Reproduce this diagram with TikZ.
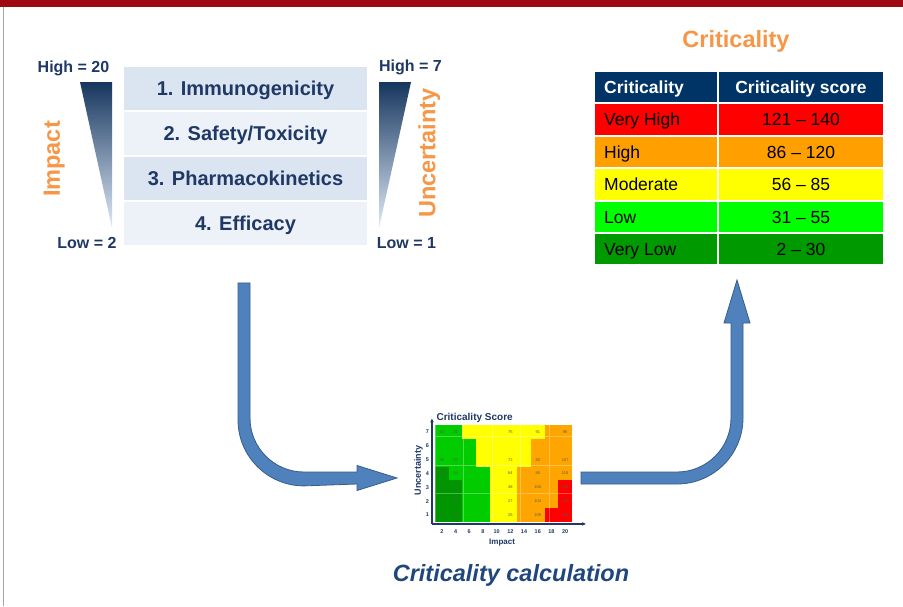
\documentclass[tikz,border=0pt]{standalone}
\usepackage{fontspec}
\setmainfont{Liberation Sans}
\usetikzlibrary{arrows.meta,positioning,calc}

\definecolor{topbar}{RGB}{158,8,16}
\definecolor{navytxt}{RGB}{31,56,100}
\definecolor{calctxt}{RGB}{31,71,125}
\definecolor{critorange}{RGB}{247,150,70}
\definecolor{boxdark}{RGB}{219,229,242}
\definecolor{boxlight}{RGB}{237,242,249}
\definecolor{tridark}{RGB}{22,54,94}
\definecolor{trilight}{RGB}{198,217,241}
\definecolor{headnavy}{RGB}{0,51,102}
\definecolor{critVH}{RGB}{255,0,0}
\definecolor{critH}{RGB}{255,160,0}
\definecolor{critM}{RGB}{255,255,0}
\definecolor{critL}{RGB}{0,255,0}
\definecolor{critVL}{RGB}{0,153,0}
\definecolor{arrowblue}{RGB}{79,129,189}
\definecolor{arrowedge}{RGB}{56,93,138}
\definecolor{hmD}{RGB}{0,150,0}
\definecolor{hmG}{RGB}{0,204,0}
\definecolor{hmY}{RGB}{255,255,0}
\definecolor{hmO}{RGB}{255,165,0}
\definecolor{hmR}{RGB}{255,0,0}

\begin{document}
\begin{tikzpicture}[
        x=1pt, y=1pt,
        listbox/.style={minimum width=243pt, minimum height=43pt, inner sep=0pt, text=navytxt,
            text height=14.3pt, text depth=0pt, font=\fontsize{20}{24}\selectfont\bfseries},
        scalelab/.style={text=navytxt, inner sep=0pt, text height=11.5pt, text depth=0pt,
            font=\fontsize{16}{19}\selectfont\bfseries},
        axislab/.style={text=critorange, inner sep=0pt, rotate=90, text height=16.8pt, text depth=0pt,
            font=\fontsize{23.5}{28}\selectfont\bfseries},
        headtxt/.style={text=white, inner sep=0pt, text height=12.5pt, text depth=0pt,
            font=\fontsize{17.5}{21}\selectfont\bfseries},
        rowtxt/.style={text=black, inner sep=0pt, text height=12.5pt, text depth=0pt,
            font=\fontsize{17.5}{21}\selectfont},
        cell/.style={draw=white, line width=2pt},
        bigarrow/.style={fill=arrowblue, draw=arrowedge, line width=0.8pt},
        hmtick/.style={text=navytxt, inner sep=0pt, font=\fontsize{5.5}{6.5}\selectfont\bfseries},
        hmnum/.style={text=black!65, inner sep=0pt, font=\fontsize{4}{5}\selectfont},
        hmlab/.style={text=navytxt, inner sep=0pt, font=\fontsize{9}{10}\selectfont\bfseries},
        hmaxis/.style={draw=navytxt, line width=1.3pt, -{Stealth[length=3.5pt,width=3.5pt]}}
    ]

    % Page
    \fill[white] (0,0) rectangle (903,-606);
    \useasboundingbox (0,0) rectangle (903,-606);
    \fill[topbar] (0,0) rectangle (903,-6.5);
    \draw[gray!70, line width=1.2pt] (3.5,-6.5) -- (3.5,-606);

    % Attribute list
    \node[listbox, fill=boxdark] (imm) at (245.5,-88.5) {1. Immunogenicity};
    \node[listbox, fill=boxlight, below=1.5pt of imm] (saf) {2. Safety/Toxicity};
    \node[listbox, fill=boxdark, below=1.5pt of saf] (pk) {3. Pharmacokinetics};
    \node[listbox, fill=boxlight, below=1.5pt of pk] (eff) {4. Efficacy};

    % Scales
    \shade[top color=tridark, middle color=trilight, bottom color=trilight!55!white]
        (80,-82) -- (112,-82) -- (112,-228) -- cycle;
    \shade[top color=tridark, middle color=trilight, bottom color=trilight!55!white]
        (379,-82) -- (411,-82) -- (379,-228) -- cycle;

    \node[scalelab] (imphigh) at (73.5,-66.5) {High = 20};
    \node[scalelab] (implow) at (87,-243) {Low = 2};
    \node[scalelab] (unchigh) at (410.5,-65.3) {High = 7};
    \node[scalelab] (unclow) at (406.5,-243) {Low = 1};
    \node[axislab] (implab) at (51.5,-159) {Impact};
    \node[axislab] (unclab) at (427,-153) {Uncertainty};

    % Criticality table
    \node[text=critorange, inner sep=0pt, font=\fontsize{23.5}{28}\selectfont\bfseries] (crittitle) at (736,-41) {Criticality};
    \draw[cell, fill=headnavy] (594,-71) rectangle (718,-103.4);
    \draw[cell, fill=headnavy] (718,-71) rectangle (884,-103.4);
    \node[headtxt, anchor=west] (hcrit) at (604,-87.2) {Criticality};
    \node[headtxt] (hscore) at (801,-87.2) {Criticality score};
    \foreach \lab/\rng/\col [count=\r] in {Very High/121 – 140/critVH, High/86 – 120/critH,
            Moderate/56 – 85/critM, Low/31 – 55/critL, Very Low/2 – 30/critVL}{
        \draw[cell, fill=\col] (594,{-71-\r*32.4}) rectangle (718,{-103.4-\r*32.4});
        \draw[cell, fill=\col] (718,{-71-\r*32.4}) rectangle (884,{-103.4-\r*32.4});
        \node[rowtxt, anchor=west] (lab\r) at (604,{-87.2-\r*32.4}) {\lab};
        \node[rowtxt] (rng\r) at (801,{-87.2-\r*32.4}) {\rng};
    }

    % Score map
    \begin{scope}[shift={(435,-522)}, x=13.7pt, y=13.86pt]
        \foreach \cols [count=\i] in {{D,D,D,D,G,G,G},{D,D,D,G,G,G,G},{G,G,G,G,G,G,Y},{G,G,G,G,Y,Y,Y},
                {Y,Y,Y,Y,Y,Y,Y},{Y,Y,Y,Y,Y,Y,Y},{O,O,O,O,Y,Y,Y},{O,O,O,O,O,O,Y},
                {R,O,O,O,O,O,O},{R,R,R,O,O,O,O}}
            \foreach \k [count=\u] in \cols
                \fill[hm\k] (\i-1,\u-1) rectangle (\i,\u);
        \draw[white, opacity=0.3, line width=0.4pt] (0,0) grid (10,7);
        \foreach \i/\u/\v in {1/7/42,1/5/30,1/4/28,1/3/18,1/2/8,1/1/2,
                2/7/26,2/5/38,2/4/34,2/3/16,2/2/20,2/1/12,
                6/7/75,6/5/72,6/4/64,6/3/48,6/2/27,6/1/25,
                8/7/91,8/5/90,8/4/85,8/3/100,8/2/104,8/1/109,
                10/7/95,10/5/107,10/4/115,10/3/126,10/2/130,10/1/140}
            \node[hmnum] (n\i-\u) at (\i-0.5,\u-0.5) {\v};
        \draw[hmaxis] (-0.22,-0.14) -- (-0.22,7.45);
        \draw[hmaxis] (-0.22,-0.14) -- (11.0,-0.14);
        \foreach \u in {1,...,7}
            \node[hmtick] (yt\u) at (-0.55,\u-0.5) {\u};
        \foreach \v [count=\i] in {2,4,...,20}
            \node[hmtick] (xt\i) at (\i-0.5,-0.72) {\v};
        \node[hmlab, rotate=90] (hmunc) at (-1.2,3.7) {Uncertainty};
        \node[hmlab, font=\fontsize{8}{9}\selectfont\bfseries] (hmimp) at (4.9,-1.5) {Impact};
        \node[hmlab, font=\fontsize{10}{12}\selectfont\bfseries, anchor=west] (hmtitle) at (0.1,7.5) {Criticality Score};
    \end{scope}

    \node[text=calctxt, inner sep=0pt, font=\fontsize{23.5}{28}\selectfont\bfseries\itshape] (calc) at (511,-575) {Criticality calculation};

    % Arrows
    \coordinate (inTop) at ($(eff.south)+(-1.5,-38)$);
    \coordinate (inTip) at (397,-478);
    \coordinate (outStart) at (581,-478);
    \coordinate (outTip) at (737,-280);

    \draw[bigarrow] ($(inTop)+(-6,0)$) -- ++(0,-137) arc[start angle=180, end angle=270, radius=66]
        -- ($(inTip)+(-40,-6)$) -- ++(0,-6.5) -- (inTip) -- ++(-40,12.5) -- ++(0,-6.5)
        -- ++(-53,0) arc[start angle=270, end angle=180, radius=54] -- ($(inTop)+(6,0)$) -- cycle;
    \draw[bigarrow] ($(outStart)+(0,6)$) -- ++(96,0) arc[start angle=270, end angle=360, radius=54]
        -- ($(outTip)+(-6,-43)$) -- ++(-7,0) -- (outTip) -- ++(13,-43) -- ++(-7,0)
        -- ++(0,-95) arc[start angle=0, end angle=-90, radius=66] -- ($(outStart)+(0,-6)$) -- cycle;

\end{tikzpicture}
\end{document}
